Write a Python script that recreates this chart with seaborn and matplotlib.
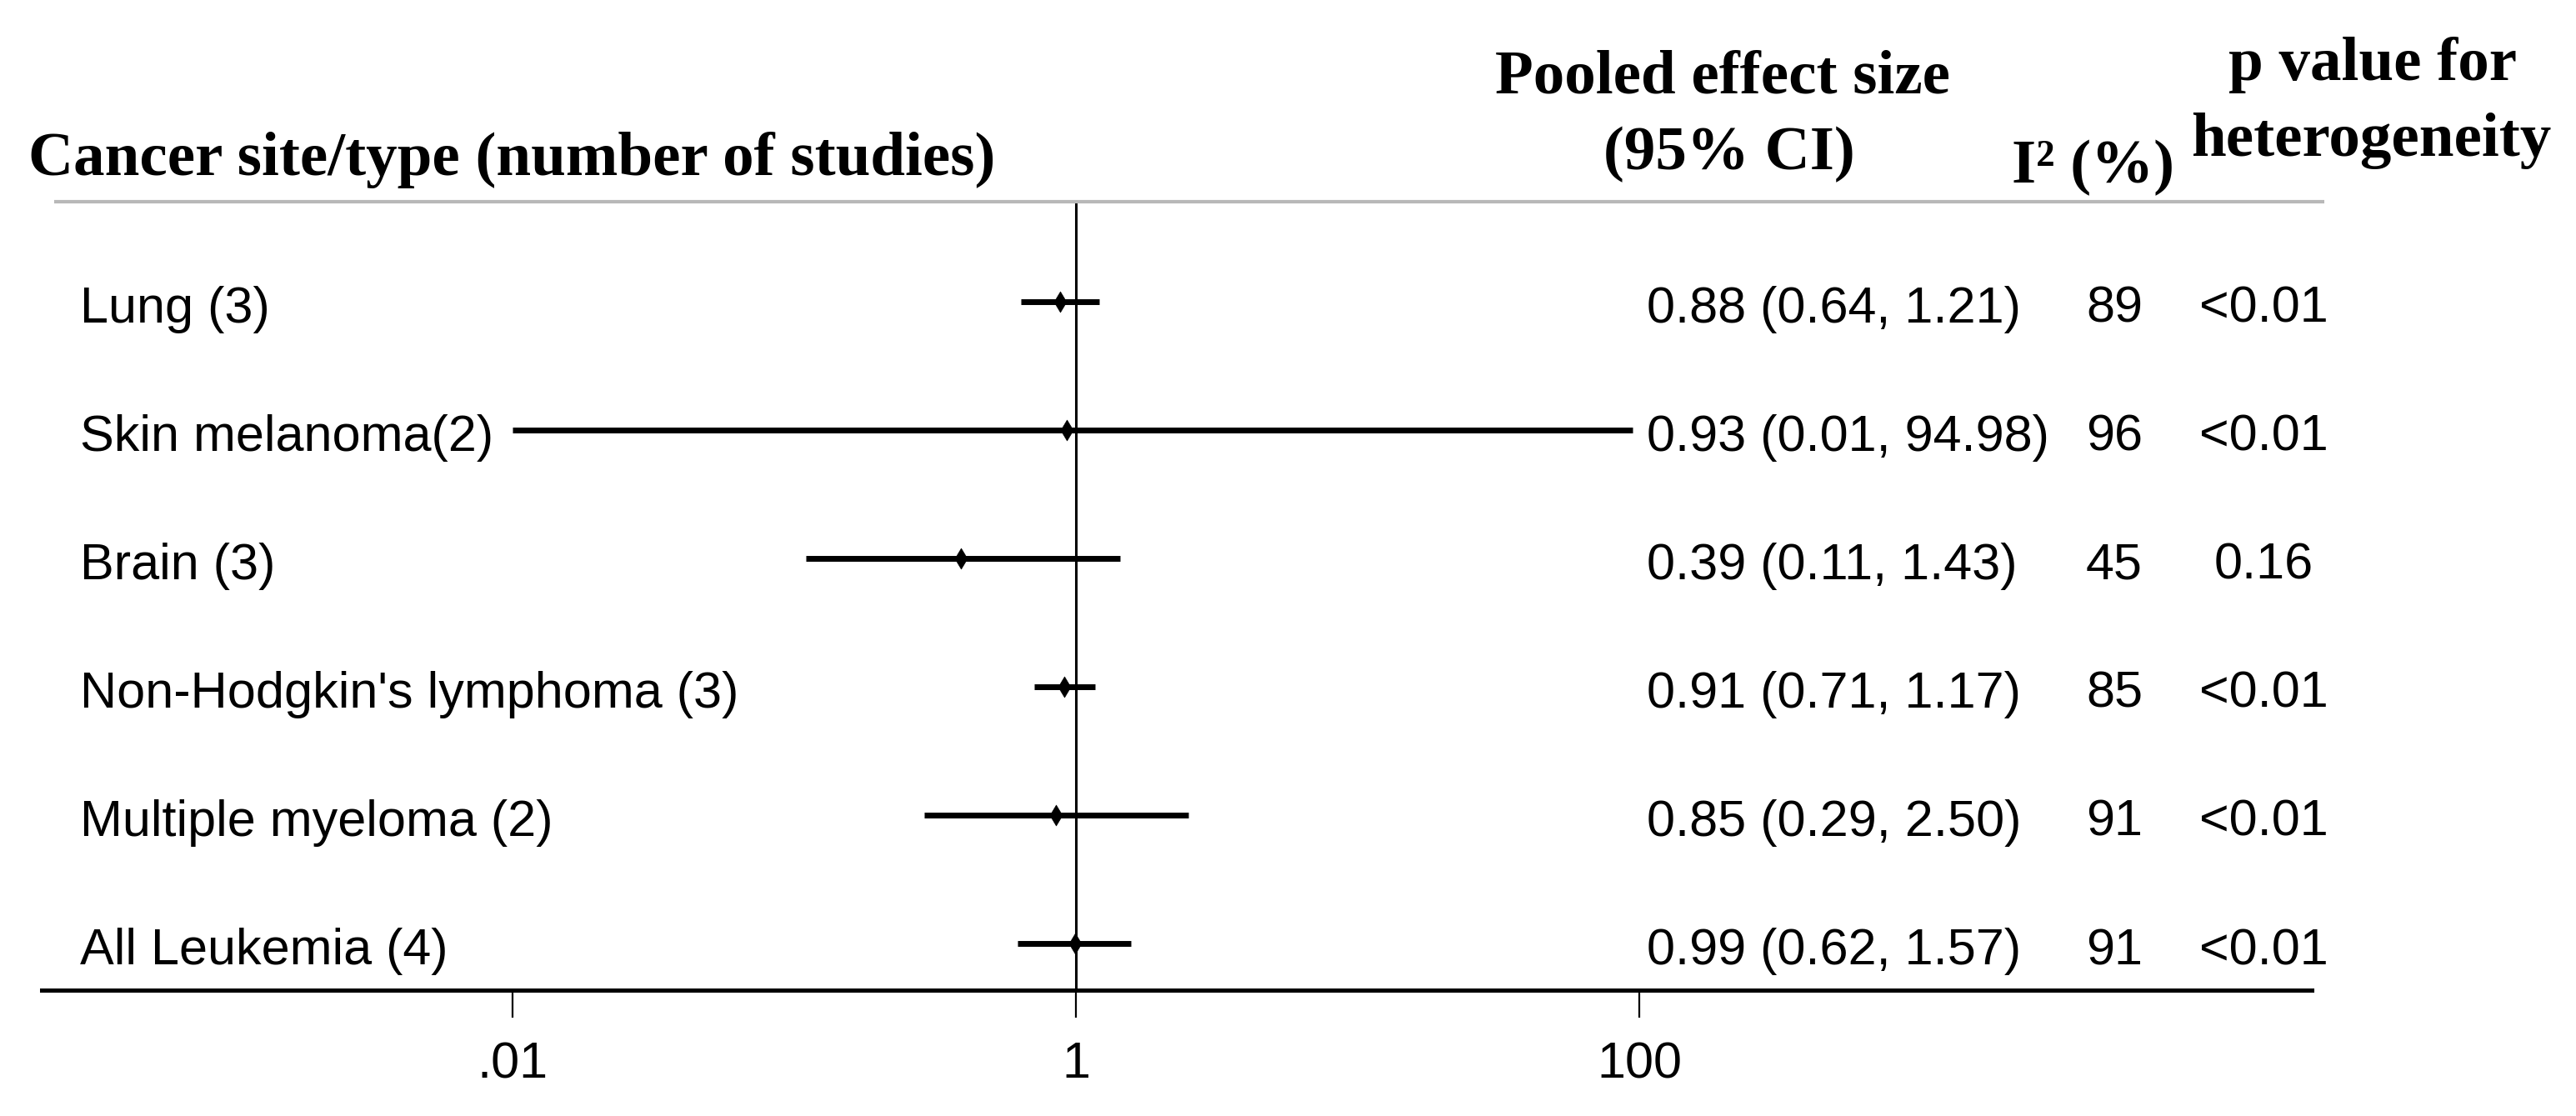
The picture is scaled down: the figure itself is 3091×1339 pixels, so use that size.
import numpy as np
import pandas as pd
import matplotlib
matplotlib.use("Agg")
import matplotlib.pyplot as plt
import seaborn as sns
from matplotlib.path import Path
from matplotlib.transforms import blended_transform_factory
from matplotlib.ticker import FixedLocator, FixedFormatter, NullLocator

# data
sites = ["Lung (3)", "Skin melanoma(2)", "Brain (3)",
         "Non-Hodgkin's lymphoma (3)", "Multiple myeloma (2)", "All Leukemia (4)"]
effect = [0.88, 0.93, 0.39, 0.91, 0.85, 0.99]
ci_low = [0.64, 0.01, 0.11, 0.71, 0.29, 0.62]
ci_high = [1.21, 94.98, 1.43, 1.17, 2.50, 1.57]
i2 = [89, 96, 45, 85, 91, 91]
p_het = ["<0.01", "<0.01", "0.16", "<0.01", "<0.01", "<0.01"]
tick_vals = [0.01, 1, 100]
tick_labels = [".01", "1", "100"]

df = pd.DataFrame({"site": sites, "es": effect, "lo": ci_low, "hi": ci_high,
                   "i2": i2, "p": p_het})
df["row"] = np.arange(len(df))

# layout (pixels)
W, H = 3091, 1339
ROW0, STEP = 362, 154        # first row y, row spacing
X1, DECADE = 1291, 338       # x pixel of 1, pixels per decade


def row_of(py):
    return (py - ROW0) / STEP


def x_of(px):
    return 10 ** ((px - X1) / DECADE)


sns.set_theme(style="white")
sans = ["Liberation Sans", "DejaVu Sans"]
serif = ["Liberation Serif", "DejaVu Serif"]
plt.rcParams["font.family"] = sans
plt.rcParams["text.color"] = "black"
plt.rcParams["xtick.color"] = "black"
plt.rcParams["xtick.labelcolor"] = "black"

fig = plt.figure(figsize=(W / 100, H / 100), dpi=100)
ax = fig.add_axes([0, 0, 1, 1])
ax.set_facecolor("white")
ax.set_xscale("log")
ax.set_xlim(x_of(0), x_of(W))
ax.set_ylim(row_of(H), row_of(0))

# CI bars and diamonds
ax.hlines(df["row"], df["lo"], df["hi"], color="black", lw=5, zorder=3)
diamond = Path([(0, 1), (0.6, 0), (0, -1), (-0.6, 0), (0, 1)], closed=True)
sns.scatterplot(data=df, x="es", y="row", marker=diamond, s=320,
                color="black", edgecolor="black", linewidth=0.5,
                zorder=4, ax=ax, legend=False)

# reference line at 1
ax.vlines(1, row_of(242), row_of(1188), color="black", lw=2.2, zorder=2)

# x axis
for s in ["top", "right", "left"]:
    ax.spines[s].set_visible(False)
ax.spines["bottom"].set_position(("data", row_of(1188)))
ax.spines["bottom"].set_bounds(x_of(50), x_of(2774))
ax.spines["bottom"].set_linewidth(3.6)
ax.spines["bottom"].set_color("black")
ax.xaxis.set_major_locator(FixedLocator(tick_vals))
ax.xaxis.set_major_formatter(FixedFormatter(tick_labels))
ax.xaxis.set_minor_locator(NullLocator())
ax.tick_params(axis="x", direction="out", length=24, width=1.6, pad=20,
               labelsize=44, colors="black", bottom=True)
ax.set_yticks([])
ax.set_xlabel("")
ax.set_ylabel("")

# separator under header
trans = blended_transform_factory(ax.transAxes, ax.transData)
ax.plot([65 / W, 2789 / W], [row_of(242)] * 2, transform=trans,
        color="#b8b8b8", lw=3, solid_capstyle="butt", clip_on=False)

# row text
off = 25 / STEP
txt = dict(transform=trans, fontsize=44, family=sans, va="baseline",
           color="black")
for _, r in df.iterrows():
    y = r["row"] + off
    ax.text(96 / W, y, r["site"], ha="left", **txt)
    ax.text(1976 / W, y, f"{r['es']:.2f} ({r['lo']:.2f}, {r['hi']:.2f})",
            ha="left", **txt)
    ax.text(2537 / W, y, str(r["i2"]), ha="center", **txt)
    ax.text(2716 / W, y, r["p"], ha="center", **txt)

# headers
hdr = dict(family=serif, fontweight="bold", fontsize=54, va="baseline",
           color="black")
fig.text(34 / W, 1 - 210 / H, "Cancer site/type (number of studies)", ha="left", **hdr)
fig.text(2067 / W, 1 - 112 / H, "Pooled effect size", ha="center", **hdr)
fig.text(2075 / W, 1 - 203 / H, "(95% CI)", ha="center", **hdr)
fig.text(2511 / W, 1 - 219 / H, "I² (%)", ha="center", **hdr)
fig.text(2847 / W, 1 - 96 / H, "p value for", ha="center", **hdr)
fig.text(2845 / W, 1 - 187 / H, "heterogeneity", ha="center", **hdr)

fig.savefig("out.png", dpi=100, facecolor="white")
